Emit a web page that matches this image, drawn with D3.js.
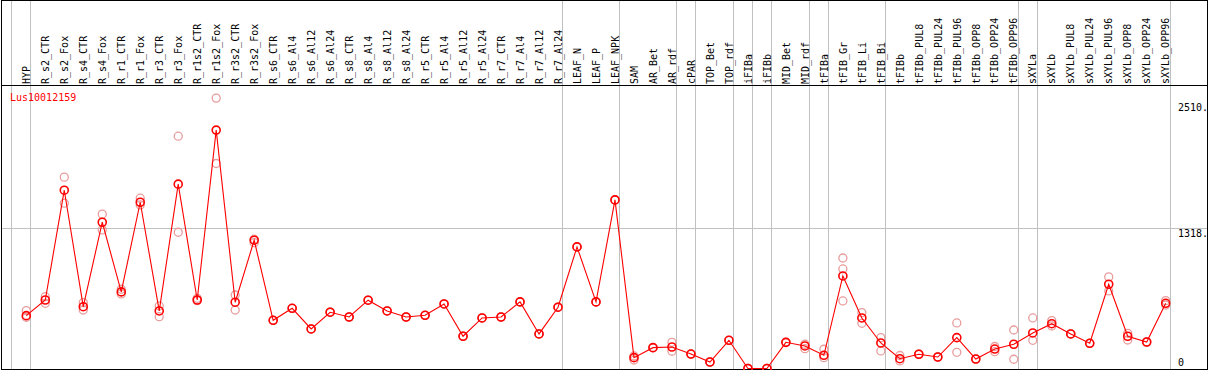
<!DOCTYPE html>
<html>
<head>
<meta charset="utf-8">
<script src="https://cdn.jsdelivr.net/npm/d3@7"></script>
<style>
  body { margin: 0; background: #fff; }
  text { font-family: "DejaVu Sans Mono", monospace; font-size: 10px; }
</style>
</head>
<body>
<svg width="1209" height="370"></svg>
<script>
var geneName = "Lus10012159";

var samples = ["HYP", "R_s2_CTR", "R_s2_Fox", "R_s4_CTR", "R_s4_Fox", "R_r1_CTR", "R_r1_Fox",
    "R_r3_CTR", "R_r3_Fox", "R_r1s2_CTR", "R_r1s2_Fox", "R_r3s2_CTR", "R_r3s2_Fox",
    "R_s6_CTR", "R_s6_Al4", "R_s6_Al12", "R_s6_Al24", "R_s8_CTR", "R_s8_Al4", "R_s8_Al12",
    "R_s8_Al24", "R_r5_CTR", "R_r5_Al4", "R_r5_Al12", "R_r5_Al24", "R_r7_CTR", "R_r7_Al4",
    "R_r7_Al12", "R_r7_Al24", "LEAF_N", "LEAF_P", "LEAF_NPK", "SAM", "AR_Bet", "AR_rdf",
    "cPAR", "TOP_Bet", "TOP_rdf", "iFIBa", "iFIBb", "MID_Bet", "MID_rdf", "tFIBa",
    "tFIB_Gr", "tFIB_Li", "tFIB_Bi", "tFIBb", "tFIBb_PUL8", "tFIBb_PUL24", "tFIBb_PUL96",
    "tFIBb_OPP8", "tFIBb_OPP24", "tFIBb_OPP96", "sXYLa", "sXYLb", "sXYLb_PUL8",
    "sXYLb_PUL24", "sXYLb_PUL96", "sXYLb_OPP8", "sXYLb_OPP24", "sXYLb_OPP96"];

// mean expression per sample
var means = [497, 644, 1676, 581, 1375, 720, 1563, 541, 1733, 644, 2241, 623, 1206,
    453, 566, 372, 529, 484, 642, 541, 484, 500, 607, 303, 475, 484, 626, 325, 576,
    1143, 626, 1585, 102, 196, 202, 136, 61, 265, 0, 0, 246, 212, 124,
    870, 475, 240, 92, 134, 108, 290, 89, 183, 228, 334, 421, 325, 237, 792, 303, 249, 613];

// replicate values per sample
var replicates = [[544, 482], [675, 613], [1799, 1554], [619, 550], [1451, 1303], [745, 701],
    [1601, 1538], [588, 487], [2184, 1281], [660, 638], [2542, 1927], [691, 550], [1215, 1183],
    [453, 453], [566, 566], [372, 372], [529, 529], [484, 484], [642, 642], [541, 541],
    [484, 484], [500, 500], [607, 607], [303, 303], [475, 475], [484, 484], [626, 626],
    [325, 325], [576, 576], [1143, 1143], [626, 626], [1585, 1585], [118, 80], [196, 196],
    [246, 162], [136, 136], [61, 61], [265, 265], [0, 0], [0, 0], [246, 246], [228, 186],
    [181, 102], [1039, 936, 635], [525, 425], [290, 165], [122, 71], [134, 134], [108, 108],
    [428, 152], [89, 89], [207, 158], [362, 87], [475, 265], [450, 400], [325, 325],
    [237, 237], [861, 729], [331, 268], [249, 249], [638, 597]];

// a separator follows each of these samples ("" = before the first)
var groupEnds = ["", "HYP", "R_r7_Al24", "LEAF_NPK", "AR_rdf", "cPAR", "TOP_rdf", "iFIBa",
    "iFIBb", "MID_rdf", "tFIBa", "tFIB_Bi", "tFIBb_OPP96", "sXYLa", "sXYLb_OPP96"];

var yTicks = [0, 1318, 2510];
var yTickLabels = ["0", "1318.", "2510."];

var svg = d3.select("svg");
var W = 1209, H = 370;

var x = d3.scalePoint().domain(samples).range([26.3, 1165.7]);
var step = x.step();
var y = d3.scaleLinear().domain([0, 1318]).range([368.5, 228.3]);

// group separators
svg.append("g")
    .style("stroke", "#c0c0c0")
    .selectAll("line")
    .data(groupEnds)
    .enter().append("line")
    .attr("x1", function (d) { return Math.round(d === "" ? x(samples[0]) - step + 4 : x(d) + 4) + 0.5; })
    .attr("x2", function (d) { return Math.round(d === "" ? x(samples[0]) - step + 4 : x(d) + 4) + 0.5; })
    .attr("y1", 0)
    .attr("y2", H);

// horizontal grid line
svg.append("line")
    .attr("x1", 1).attr("x2", 1208)
    .attr("y1", Math.round(y(1318)) + 0.5).attr("y2", Math.round(y(1318)) + 0.5)
    .style("stroke", "#c0c0c0");

// frame
var frame = svg.append("g").style("stroke", "#000").style("shape-rendering", "crispEdges");
frame.append("line").attr("x1", 1).attr("x2", 1208).attr("y1", 0.5).attr("y2", 0.5);
frame.append("line").attr("x1", 1).attr("x2", 1208).attr("y1", 85.5).attr("y2", 85.5);
frame.append("line").attr("x1", 1).attr("x2", 1208).attr("y1", 369.5).attr("y2", 369.5);
frame.append("line").attr("x1", 1.5).attr("x2", 1.5).attr("y1", 0).attr("y2", H);
frame.append("line").attr("x1", 1207.5).attr("x2", 1207.5).attr("y1", 0).attr("y2", H);

// column labels
svg.append("g")
    .selectAll("text")
    .data(samples)
    .enter().append("text")
    .attr("transform", function (d) { return "translate(" + (x(d) + 3.7) + ",84) rotate(-90)"; })
    .style("fill", "#000")
    .text(function (d) { return d; });

// y tick labels
svg.append("g")
    .selectAll("text")
    .data(yTicks)
    .enter().append("text")
    .attr("x", 1178)
    .attr("y", function (d) { return Math.min(y(d) + 9, 366); })
    .style("fill", "#000")
    .text(function (d, i) { return yTickLabels[i]; });

// gene name
svg.append("text")
    .attr("x", 10).attr("y", 101)
    .style("fill", "#ff0000")
    .text(geneName);

// replicate points
var repPoints = [];
replicates.forEach(function (r, i) {
    r.forEach(function (v) { repPoints.push({ s: samples[i], v: v }); });
});
svg.append("g")
    .selectAll("circle")
    .data(repPoints)
    .enter().append("circle")
    .attr("cx", function (d) { return x(d.s); })
    .attr("cy", function (d) { return y(d.v); })
    .attr("r", 4)
    .style("fill", "none")
    .style("stroke", "#e89c9c")
    .style("stroke-width", 1.3);

// mean line
var line = d3.line()
    .x(function (d, i) { return x(samples[i]); })
    .y(function (d) { return y(d); });
svg.append("path")
    .datum(means)
    .attr("d", line)
    .style("fill", "none")
    .style("stroke", "#ff0000")
    .style("stroke-width", 1.1);

// mean points
svg.append("g")
    .selectAll("circle")
    .data(means)
    .enter().append("circle")
    .attr("cx", function (d, i) { return x(samples[i]); })
    .attr("cy", function (d) { return y(d); })
    .attr("r", 4)
    .style("fill", "none")
    .style("stroke", "#ff0000")
    .style("stroke-width", 1.6);
</script>
</body>
</html>
